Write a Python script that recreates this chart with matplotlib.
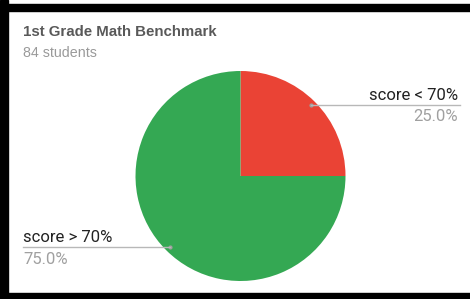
import matplotlib.pyplot as plt
import numpy as np
from matplotlib.patches import Rectangle
from matplotlib.lines import Line2D

# chart data
labels = ["score < 70%", "score > 70%"]
values = [25.0, 75.0]
colors = ["#EA4335", "#34A853"]
title = "1st Grade Math Benchmark"
subtitle = "84 students"

W, H = 470, 299
fig = plt.figure(figsize=(W / 100, H / 100), dpi=100)
fig.patch.set_facecolor("white")

def fx(px):
    return px / W

def fy(py):
    # py measured from the top
    return 1 - py / H

# black frame around the screenshot (left, top, bottom)
fig.patches.append(Rectangle((0, 0), fx(8), 1, transform=fig.transFigure, color="black", zorder=0))
fig.patches.append(Rectangle((0, fy(11)), 1, 7 / H, transform=fig.transFigure, color="black", zorder=0))
fig.patches.append(Rectangle((0, 0), 1, 6 / H, transform=fig.transFigure, color="black", zorder=0))

# pie axes: center (240.5, 176) px, radius 105 px
cx, cy, r = 240.5, 176, 105
ax = fig.add_axes([fx(cx - r), fy(cy + r), 2 * r / W, 2 * r / H])
wedges, _ = ax.pie(values, colors=colors, startangle=90, counterclock=False,
                   radius=1, wedgeprops=dict(linewidth=0))
ax.set_xlim(-1, 1)
ax.set_ylim(-1, 1)
ax.set_aspect("equal")
ax.axis("off")

fig.text(fx(23), fy(32), title, fontsize=10.8, fontweight="bold", color="#595959",
         family="Liberation Sans", ha="left", va="center")
fig.text(fx(23), fy(53), subtitle, fontsize=10.3, color="#9a9a9a",
         family="Liberation Sans", ha="left", va="center")

# leader lines and labels
label_x = [458, 23]
ha = ["right", "left"]
line_y = [104.5, 247]
for i, w in enumerate(wedges):
    ang = np.deg2rad((w.theta1 + w.theta2) / 2)
    ex, ey = 0.955 * np.cos(ang), 0.955 * np.sin(ang)
    # anchor in figure pixels
    px = cx + ex * r
    pend = 460 if ha[i] == "right" else 23
    fig.lines.append(Line2D([fx(px), fx(pend)], [fy(line_y[i]), fy(line_y[i])],
                            transform=fig.transFigure, color="#b8b8b8", lw=1))
    ax.plot([ex], [ey], "o", ms=2, color="#a0a0a0")
    fig.text(fx(label_x[i]), fy(line_y[i] - 9), labels[i], fontsize=12, color="#222222",
             family="Roboto", ha=ha[i], va="center")
    fig.text(fx(label_x[i]), fy(line_y[i] + 12), "%.1f%%" % values[i], fontsize=12,
             color="#a0a0a0", family="Roboto", ha=ha[i], va="center")

fig.savefig("out.png", dpi=100)
